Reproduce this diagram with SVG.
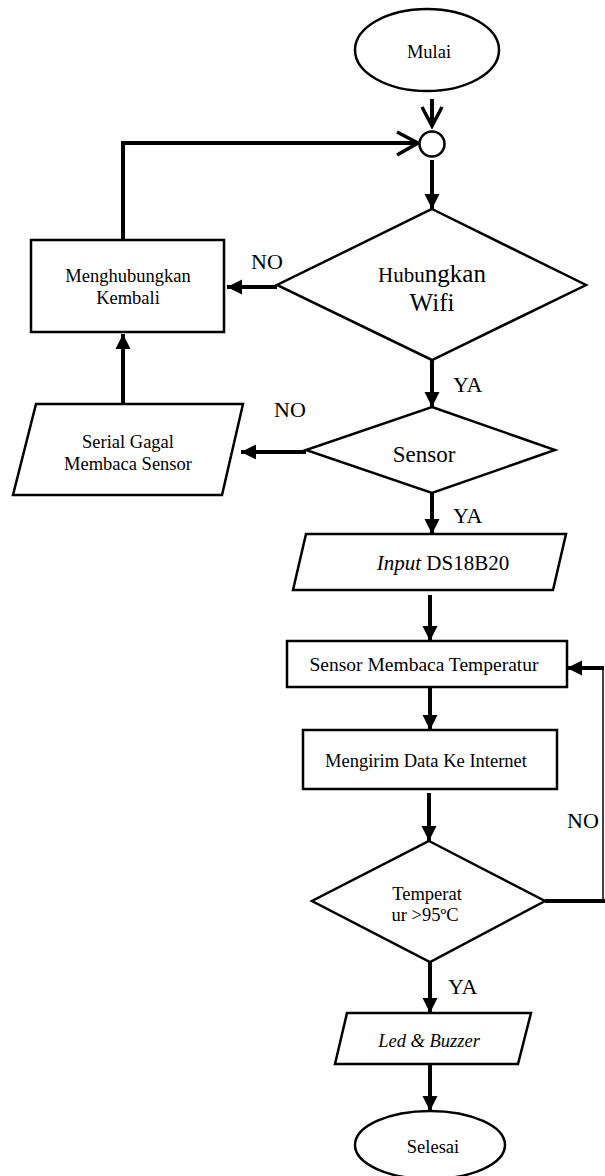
<svg xmlns="http://www.w3.org/2000/svg" width="605" height="1176" viewBox="0 0 605 1176">
<style>
.shape{fill:#fff;stroke:#000;stroke-width:2.5;stroke-linejoin:miter}
.conn{fill:none;stroke:#000;stroke-width:4}
.thin{fill:none;stroke:#000;stroke-width:1.5}
.chev{fill:none;stroke:#000;stroke-width:3.5;stroke-linejoin:miter}
text{font-family:"Liberation Serif","Times New Roman",serif;fill:#000}
.t{font-size:18.5px;text-anchor:middle}
.lbl{font-size:22px}
</style>
<defs>
<marker id="ah" markerUnits="userSpaceOnUse" markerWidth="16" markerHeight="16" viewBox="0 0 16 16" refX="15" refY="8" orient="auto">
<path d="M0,0.5 L15,8 L0,15.5 z" fill="#000"/>
</marker>
</defs>
<rect width="605" height="1176" fill="#fff"/>

<g id="connectors">
<!-- Mulai to circle -->
<line class="conn" x1="432" y1="99" x2="432" y2="126"/>
<polyline class="chev" points="422,107 432,126 442,107"/>
<!-- loop from Menghubungkan to circle -->
<polyline class="conn" points="123,240 123,143 417,143"/>
<polyline class="chev" points="397,132 418,143 397,155"/>
<!-- circle to wifi -->
<line class="conn" x1="432" y1="160" x2="432" y2="209" marker-end="url(#ah)"/>
<!-- wifi NO -->
<line class="conn" x1="277" y1="287" x2="227" y2="287" marker-end="url(#ah)"/>
<!-- wifi YA -->
<line class="conn" x1="432" y1="360" x2="432" y2="407" marker-end="url(#ah)"/>
<!-- sensor NO -->
<line class="conn" x1="306" y1="452" x2="241" y2="452" marker-end="url(#ah)"/>
<!-- serial to menghubungkan -->
<line class="conn" x1="123" y1="404" x2="123" y2="334" marker-end="url(#ah)"/>
<!-- sensor YA -->
<line class="conn" x1="432" y1="493" x2="432" y2="534" marker-end="url(#ah)"/>
<!-- input to membaca -->
<line class="conn" x1="430" y1="595" x2="430" y2="641" marker-end="url(#ah)"/>
<!-- membaca to mengirim -->
<line class="conn" x1="430" y1="687" x2="430" y2="730" marker-end="url(#ah)"/>
<!-- mengirim to temperatur -->
<line class="conn" x1="429" y1="793" x2="429" y2="841" marker-end="url(#ah)"/>
<!-- temperatur NO loop -->
<line class="conn" x1="545" y1="901" x2="605" y2="901"/>
<line class="thin" x1="603" y1="901" x2="603" y2="668"/>
<line class="conn" x1="604" y1="668" x2="567" y2="668" marker-end="url(#ah)"/>
<!-- temperatur YA -->
<line class="conn" x1="430" y1="962" x2="430" y2="1013" marker-end="url(#ah)"/>
<!-- led to selesai -->
<line class="conn" x1="430" y1="1064" x2="430" y2="1111" marker-end="url(#ah)"/>
<!-- labels -->
<text class="lbl" x="251" y="269">NO</text>
<text class="lbl" x="453" y="392">YA</text>
<text class="lbl" x="274" y="417">NO</text>
<text class="lbl" x="453" y="523">YA</text>
<text class="lbl" x="567" y="828">NO</text>
<text class="lbl" x="448" y="994">YA</text>
</g>

<g id="mulai">
<ellipse class="shape" cx="427" cy="50" rx="72" ry="41"/>
<text class="t" x="429" y="58">Mulai</text>
</g>

<g id="junction">
<circle class="shape" cx="432" cy="144" r="12.5"/>
</g>

<g id="hubungkan-wifi">
<polygon class="shape" points="432,209 586,285 432,360 277,285"/>
<text x="432" y="282" text-anchor="middle"><tspan font-size="21px">Hubu</tspan><tspan font-size="25px">ngkan</tspan></text>
<text x="432" y="311" text-anchor="middle" font-size="25px">Wifi</text>
</g>

<g id="menghubungkan-kembali">
<rect class="shape" x="31" y="240" width="193" height="92"/>
<text class="t" x="128" y="282">Menghubungkan</text>
<text class="t" x="128" y="304">Kembali</text>
</g>

<g id="sensor">
<polygon class="shape" points="432,407 555,450 432,493 306,450"/>
<text x="424" y="462" text-anchor="middle" font-size="23px">Sensor</text>
</g>

<g id="serial-gagal">
<polygon class="shape" points="36,404 243,404 222,495 13,495"/>
<text class="t" x="128" y="448">Serial Gagal</text>
<text class="t" x="128" y="470">Membaca Sensor</text>
</g>

<g id="input-ds18b20">
<polygon class="shape" points="306,534 566,534 553,590 293,590"/>
<text x="443" y="570" text-anchor="middle" font-size="21px"><tspan font-style="italic">Input</tspan> DS18B20</text>
</g>

<g id="sensor-membaca">
<rect class="shape" x="287" y="641" width="280" height="46"/>
<text x="424" y="671" text-anchor="middle" font-size="19.5px">Sensor Membaca Temperatur</text>
</g>

<g id="mengirim-data">
<rect class="shape" x="303" y="730" width="254" height="59"/>
<text class="t" x="426" y="767">Mengirim Data Ke Internet</text>
</g>

<g id="temperatur">
<polygon class="shape" points="429,841 545,901 430,962 312,901"/>
<text class="t" x="427" y="900">Temperat</text>
<text class="t" x="425" y="921">ur &gt;95ºC</text>
</g>

<g id="led-buzzer">
<polygon class="shape" points="347,1013 531,1013 518,1064 335,1064"/>
<text class="t" x="429" y="1047" font-style="italic">Led &amp; Buzzer</text>
</g>

<g id="selesai">
<ellipse class="shape" cx="430" cy="1145" rx="75" ry="34"/>
<text class="t" x="433" y="1153">Selesai</text>
</g>
</svg>
